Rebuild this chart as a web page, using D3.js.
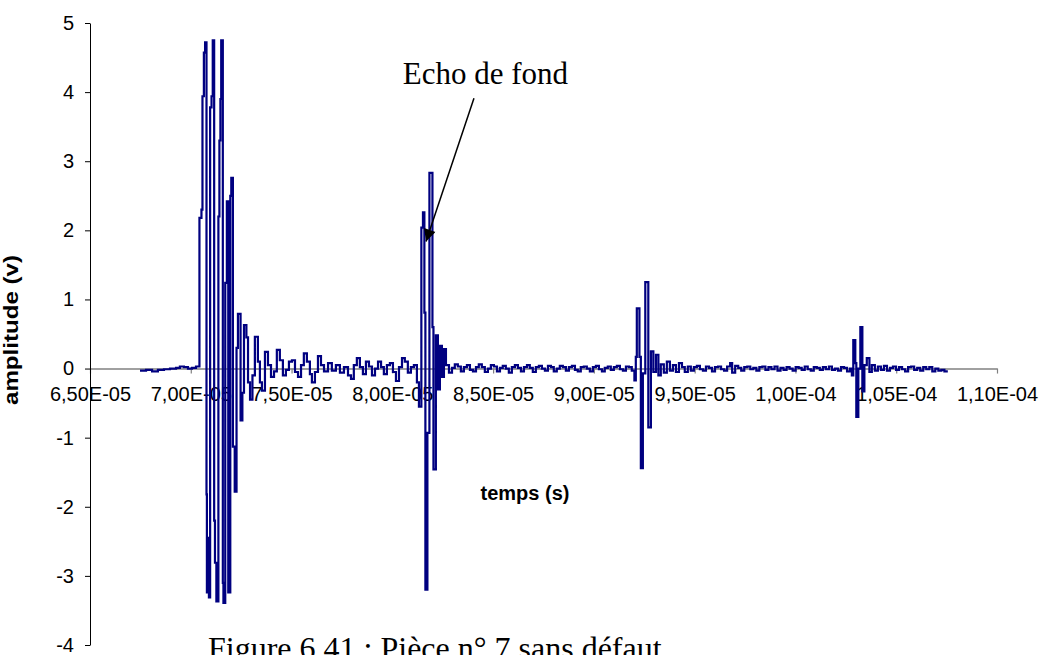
<!DOCTYPE html>
<html>
<head>
<meta charset="utf-8">
<script src="https://cdn.jsdelivr.net/npm/d3@7"></script>
<style>
  body { margin: 0; background: #fff; }
  svg { display: block; }
</style>
</head>
<body>
<svg id="chart" width="1050" height="655"></svg>
<script>
// Ultrasonic A-scan, sample-and-hold trace (time in µs, amplitude in V)
const timeUs = [
  // before the emission
  67.48, 67.78, 68.08, 68.37, 68.67, 68.97, 69.27, 69.46, 69.66, 69.86, 70.06, 70.26,
  // emission burst
  70.43, 70.53, 70.58, 70.65, 70.71, 70.78, 70.80, 70.85, 70.90, 70.96, 71.03, 71.09,
  71.16, 71.20, 71.27, 71.37, 71.42, 71.47, 71.51, 71.59, 71.62, 71.71, 71.79, 71.86,
  71.96, 72.01, 72.09, 72.18, 72.27, 72.34, 72.47, 72.56, 72.64, 72.76, 72.84, 72.94,
  73.06, 73.18, 73.33, 73.43, 73.53, 73.68, 73.83, 73.98, 74.13, 74.27, 74.42, 74.57,
  74.72, 74.87, 75.02, 75.17, 75.32, 75.47, 75.61, 75.76, 75.91, 76.01, 76.16, 76.31,
  76.46, 76.61, 76.81, 77.00, 77.20, 77.40, 77.60, 77.80, 77.95, 78.09, 78.24, 78.39,
  78.54, 78.69, 78.84, 78.99, 79.14, 79.29, 79.44, 79.58, 79.73, 79.88, 80.03, 80.18,
  80.33, 80.48, 80.62, 80.77, 80.92, 81.07, 81.22,
  // back-wall echo
  81.32, 81.44, 81.52, 81.59, 81.64, 81.74, 81.84, 81.99, 82.04, 82.16, 82.26, 82.36,
  82.46, 82.56,
  82.66, 82.81, 82.96, 83.10, 83.25, 83.40, 83.55, 83.70, 83.85, 84.00, 84.15, 84.29,
  84.44, 84.59, 84.74, 84.89, 85.04, 85.19, 85.34, 85.48, 85.63, 85.78, 85.93, 86.08,
  86.23, 86.38, 86.53, 86.68, 86.82, 86.97, 87.12, 87.27, 87.42, 87.57, 87.72, 87.87,
  88.01, 88.16, 88.31, 88.46, 88.61, 88.76, 88.91, 89.06, 89.20, 89.35, 89.50, 89.65,
  89.80, 89.95, 90.10, 90.25, 90.40, 90.54, 90.69, 90.84, 90.99, 91.14, 91.29, 91.44,
  91.59, 91.74, 91.88,
  // second back-wall echo
  92.01, 92.08, 92.13, 92.26, 92.33, 92.43, 92.55, 92.70, 92.83, 92.95, 93.08, 93.20,
  93.32, 93.47, 93.62, 93.77, 93.92, 94.07, 94.22, 94.37, 94.51,
  94.66, 94.81, 94.96, 95.11, 95.26, 95.41, 95.56, 95.71, 95.86, 96.01, 96.16, 96.31,
  96.46, 96.61, 96.76, 96.86, 97.01, 97.16, 97.31, 97.46, 97.61, 97.76, 97.91, 98.06,
  98.21, 98.36, 98.51, 98.66, 98.81, 98.96, 99.11, 99.26, 99.41, 99.56, 99.71, 99.86,
  100.01, 100.16, 100.31, 100.46, 100.61, 100.76, 100.91, 101.06, 101.21, 101.36, 101.51, 101.66,
  101.81, 101.96, 102.11, 102.26, 102.41, 102.56, 102.71,
  // third back-wall echo
  102.80, 102.87, 102.97, 103.02, 103.12, 103.22, 103.32, 103.42, 103.54, 103.67, 103.79, 103.94,
  104.09, 104.24, 104.39, 104.54, 104.69, 104.84, 104.99, 105.14, 105.29, 105.44, 105.59, 105.74,
  105.89, 106.04, 106.19, 106.34, 106.49, 106.64, 106.79, 106.94, 107.09, 107.24, 107.39, 107.56
];

const amplitudeV = [
  -0.03, -0.02, -0.04, -0.02, -0.01, 0.00, 0.01, 0.03, 0.02, 0.00, 0.01, 0.03,
  2.18, 2.30, 3.94, 4.57, 4.72, -1.82, -3.24, -2.45, -3.31, 3.78, 3.94, 4.75,
  -2.20, -2.81, -3.37, 2.20, 3.30, 3.90, 4.75, -3.10, -3.39, 1.24, 2.42, -3.24,
  2.50, 2.76, -1.13, -1.78, 0.30, 0.79, -0.75, -0.35, 0.63, 0.45, -0.20, -0.45,
  -0.10, 0.46, 0.10, -0.20, -0.32, 0.24, 0.05, -0.12, -0.04, 0.27, 0.12, -0.10,
  -0.02, 0.10, 0.12, -0.05, -0.12, 0.05, 0.22, 0.10, -0.08, -0.20, -0.05, 0.18,
  0.05, -0.04, 0.08, -0.03, 0.05, -0.06, 0.02, -0.10, -0.15, 0.05, 0.15, 0.02,
  -0.08, 0.10, 0.03, -0.10, 0.00, 0.10, 0.02, -0.08, 0.05, 0.08, -0.05, -0.18,
  0.02, 0.15, 0.10, -0.06, 0.02, 0.05, -0.20,
  -0.55, 2.04, 2.26, 0.81, -3.20, -0.93, 2.83, 0.60, -1.46, 0.48, -0.30, 0.33,
  -0.12, 0.28,
  0.05, -0.06, 0.01, 0.06, 0.03, -0.04, 0.02, 0.05, -0.02, -0.04, 0.02, 0.06,
  0.02, -0.05, 0.00, 0.05, 0.03, -0.04, 0.01, 0.04, 0.00, -0.06, 0.02, 0.05,
  0.01, -0.04, 0.02, 0.05, 0.01, -0.05, 0.02, 0.04, 0.00, -0.03, 0.04, 0.02,
  -0.04, 0.00, 0.04, 0.02, -0.03, 0.02, 0.04, -0.02, -0.04, 0.02, 0.03, 0.00,
  -0.04, 0.02, 0.04, -0.01, -0.04, 0.01, 0.03, -0.02, 0.02, 0.04, -0.01, -0.03,
  0.03, 0.02, -0.03,
  -0.17, 0.17, 0.87, 0.17, -1.44, -0.07, 1.25, -0.85, 0.25, -0.05, 0.20, -0.10,
  0.06, -0.06, 0.10, -0.03, 0.05, -0.05, 0.08, 0.02, -0.05,
  0.03, -0.03, 0.02, 0.04, -0.01, -0.03, 0.03, 0.01, -0.04, 0.02, 0.03, -0.01,
  -0.03, 0.03, 0.08, -0.06, 0.04, 0.01, -0.03, 0.02, 0.03, -0.01, 0.01, -0.03,
  0.02, 0.03, -0.02, 0.02, -0.01, 0.03, -0.03, 0.01, -0.02, 0.02, 0.00, -0.03,
  0.02, 0.01, -0.02, 0.03, -0.01, -0.03, 0.02, 0.01, -0.02, 0.02, -0.01, 0.03,
  -0.02, 0.00, -0.03, 0.02, 0.01, -0.04, 0.00,
  -0.10, 0.41, 0.08, -0.70, 0.00, 0.60, -0.33, 0.05, 0.15, -0.05, 0.05, -0.03,
  0.03, -0.02, 0.04, -0.03, 0.01, 0.03, -0.02, 0.02, -0.01, -0.04, 0.02, 0.03,
  -0.02, 0.01, -0.03, 0.02, -0.01, 0.02, -0.04, 0.00, -0.03, -0.02, -0.04, -0.04
];

const xTickValues = [6.5e-5, 7.0e-5, 7.5e-5, 8.0e-5, 8.5e-5, 9.0e-5, 9.5e-5, 1.0e-4, 1.05e-4, 1.1e-4];
const xTickLabels = ["6,50E-05", "7,00E-05", "7,50E-05", "8,00E-05", "8,50E-05",
                     "9,00E-05", "9,50E-05", "1,00E-04", "1,05E-04", "1,10E-04"];
const yTickValues = [-4, -3, -2, -1, 0, 1, 2, 3, 4, 5];

const xTitle = "temps (s)";
const yTitle = "amplitude (v)";
const noteText = "Echo de fond";
const noteTip = [81.67e-6, 1.84];   // arrow head, data units
const noteTail = [84.05e-6, 3.91];  // arrow start, data units
const caption = "Figure 6.41 : Pièce n° 7 sans défaut";

const svg = d3.select("#chart");

const x = d3.scaleLinear().domain([6.5e-5, 1.1e-4]).range([90, 997]);
const y = d3.scaleLinear().domain([-4, 5]).range([645, 23]);

const tickFont = "'Liberation Sans', Arial, sans-serif";
const serifFont = "'Liberation Serif', 'Times New Roman', serif";

// Horizontal axis on the zero line
const xAxis = svg.append("g")
  .attr("transform", `translate(0,${y(0)})`)
  .call(d3.axisBottom(x)
    .tickValues(xTickValues)
    .tickFormat((d, i) => xTickLabels[i])
    .tickSize(5)
    .tickSizeOuter(0)
    .tickPadding(13));
xAxis.select(".domain").attr("stroke", "#808080").attr("stroke-width", 1.6);
xAxis.selectAll(".tick line").attr("stroke", "#808080").attr("stroke-width", 1.2);
xAxis.selectAll(".tick text")
  .attr("fill", "#000")
  .style("font-family", tickFont)
  .style("font-size", "20px");

// Vertical axis
const yAxis = svg.append("g")
  .attr("transform", `translate(${x(6.5e-5)},0)`)
  .call(d3.axisLeft(y)
    .tickValues(yTickValues)
    .tickFormat(d => String(d))
    .tickSize(5)
    .tickSizeOuter(0)
    .tickPadding(11));
yAxis.select(".domain").attr("stroke", "#000").attr("stroke-width", 1);
yAxis.selectAll(".tick line").attr("stroke", "#000");
yAxis.selectAll(".tick text")
  .attr("fill", "#000")
  .style("font-family", tickFont)
  .style("font-size", "20px");

// Signal trace
const points = timeUs.map((t, i) => ({ t: t * 1e-6, v: amplitudeV[i] }));
const line = d3.line()
  .x(d => x(d.t))
  .y(d => y(d.v))
  .curve(d3.curveStepAfter);

svg.append("path")
  .datum(points)
  .attr("d", line)
  .attr("fill", "none")
  .attr("stroke", "#000080")
  .attr("stroke-width", 2.2)
  .attr("stroke-linejoin", "miter");

// Axis titles
svg.append("text")
  .attr("x", 525)
  .attr("y", 500)
  .attr("text-anchor", "middle")
  .style("font-family", tickFont)
  .style("font-weight", "bold")
  .style("font-size", "20px")
  .text(xTitle);

svg.append("text")
  .attr("transform", "translate(18,330) rotate(-90)")
  .attr("text-anchor", "middle")
  .attr("textLength", 150)
  .attr("lengthAdjust", "spacingAndGlyphs")
  .style("font-family", tickFont)
  .style("font-weight", "bold")
  .style("font-size", "20px")
  .text(yTitle);

// Annotation
svg.append("defs").append("marker")
  .attr("id", "arrowHead")
  .attr("viewBox", "0 0 10 10")
  .attr("refX", 10)
  .attr("refY", 5)
  .attr("markerUnits", "userSpaceOnUse")
  .attr("markerWidth", 15)
  .attr("markerHeight", 12)
  .attr("orient", "auto")
  .append("path")
  .attr("d", "M0,0 L10,5 L0,10 Z")
  .attr("fill", "#000");

svg.append("line")
  .attr("x1", x(noteTail[0]))
  .attr("y1", y(noteTail[1]))
  .attr("x2", x(noteTip[0]))
  .attr("y2", y(noteTip[1]))
  .attr("stroke", "#000")
  .attr("stroke-width", 1.5)
  .attr("marker-end", "url(#arrowHead)");

svg.append("text")
  .attr("x", 568)
  .attr("y", 84)
  .attr("text-anchor", "end")
  .style("font-family", serifFont)
  .style("font-size", "31px")
  .text(noteText);

// Figure caption
svg.append("text")
  .attr("x", 208)
  .attr("y", 659)
  .style("font-family", serifFont)
  .style("font-size", "32px")
  .text(caption);
</script>
</body>
</html>
